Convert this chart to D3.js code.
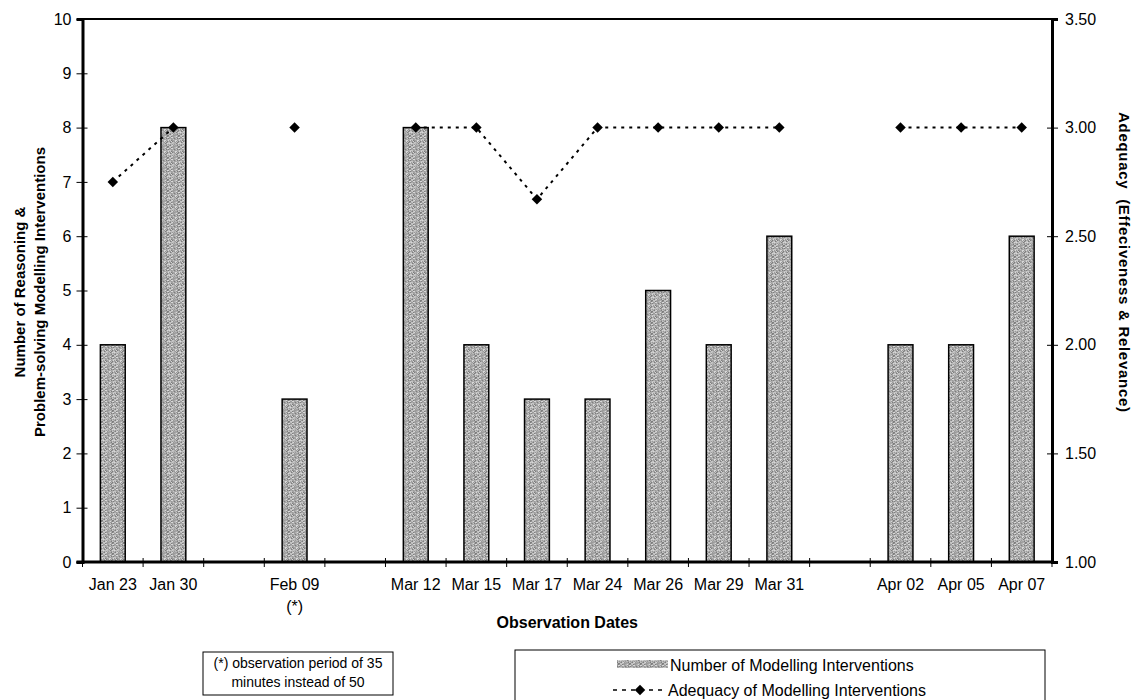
<!doctype html>
<meta charset="utf-8">
<title>Modelling Interventions</title>
<script src="https://cdnjs.cloudflare.com/ajax/libs/d3/7.8.5/d3.min.js"></script>
<style>
  body { margin: 0; background: #fff; }
  svg { font-family: Arial, "Liberation Sans", sans-serif; }
</style>
<svg id="chart" width="1136" height="700"></svg>
<script>
  // slots along the x axis, blank ones are the gaps in the original
  const dates = ['Jan 23', 'Jan 30', '', 'Feb 09', '', 'Mar 12', 'Mar 15', 'Mar 17',
    'Mar 24', 'Mar 26', 'Mar 29', 'Mar 31', '', 'Apr 02', 'Apr 05', 'Apr 07']
  const interventions = [4, 8, null, 3, null, 8, 4, 3, 3, 5, 4, 6, null, 4, 4, 6]
  const adequacy = [2.75, 3.0, null, 3.0, null, 3.0, 3.0, 2.67, 3.0, 3.0, 3.0, 3.0, null, 3.0, 3.0, 3.0]
  const leftTicks = [0, 1, 2, 3, 4, 5, 6, 7, 8, 9, 10]
  const rightTicks = [1.0, 1.5, 2.0, 2.5, 3.0, 3.5]

  const svg = d3.select('#chart')
  const m = { left: 82.5, right: 1052, top: 19, bottom: 562 }

  const x = d3.scaleBand().domain(d3.range(dates.length)).range([m.left, m.right])
  const yL = d3.scaleLinear().domain([0, 10]).range([m.bottom, m.top])
  const yR = d3.scaleLinear().domain([1, 3.5]).range([m.bottom, m.top])

  // speckled grey fill for the bars (scan-like texture, fixed hash so it is stable)
  const shades = ['#7e7e7e', '#9a9a9a', '#acacac', '#b8b8b8', '#c6c6c6', '#d8d8d8', '#a2a2a2']
  const N = 11
  const pat = svg.append('defs').append('pattern').attr('id', 'speck')
    .attr('width', N).attr('height', N).attr('patternUnits', 'userSpaceOnUse')
  for (let i = 0; i < N; i++) {
    for (let j = 0; j < N; j++) {
      const h = (i * 37 + j * 91 + i * j * 13 + (i ^ j) * 7) % 19
      pat.append('rect').attr('x', i).attr('y', j).attr('width', 1).attr('height', 1)
        .attr('fill', shades[h % shades.length])
    }
  }

  // bars
  const barW = x.bandwidth() * 0.41
  svg.append('g').selectAll('rect')
    .data(interventions.map((v, i) => ({ v, i })).filter(d => d.v != null))
    .join('rect')
    .attr('x', d => x(d.i) + (x.bandwidth() - barW) / 2)
    .attr('y', d => yL(d.v))
    .attr('width', barW)
    .attr('height', d => yL(0) - yL(d.v))
    .attr('fill', 'url(#speck)')
    .attr('stroke', '#000')
    .attr('stroke-width', 1.5)

  // top border
  svg.append('line').attr('x1', m.left).attr('x2', m.right).attr('y1', m.top).attr('y2', m.top)
    .attr('stroke', '#000').attr('stroke-width', 2)

  // left axis
  const gl = svg.append('g').attr('transform', `translate(${m.left},0)`)
    .call(d3.axisLeft(yL).tickValues(leftTicks).tickSize(6).tickFormat(d3.format('d')))
  gl.attr('font-size', null).attr('font-family', null)
  gl.select('.domain').attr('stroke-width', 3)
  gl.selectAll('.tick line').attr('x1', 5).attr('stroke-width', 1)
  gl.selectAll('.tick text').attr('font-size', 16).attr('x', -11)

  // right axis
  const gr = svg.append('g').attr('transform', `translate(${m.right},0)`)
    .call(d3.axisRight(yR).tickValues(rightTicks).tickSize(6).tickFormat(d3.format('.2f')))
  gr.attr('font-size', null).attr('font-family', null)
  gr.select('.domain').attr('stroke-width', 3)
  gr.selectAll('.tick line').attr('x1', -5).attr('stroke-width', 1)
  gr.selectAll('.tick text').attr('font-size', 16).attr('x', 13)

  // bottom axis, ticks on category boundaries
  const gb = svg.append('g').attr('transform', `translate(0,${m.bottom})`)
  gb.append('line').attr('x1', m.left - 6).attr('x2', m.right).attr('stroke', '#000').attr('stroke-width', 3)
  gb.selectAll('.bt').data(d3.range(dates.length + 1)).join('line')
    .attr('x1', i => m.left + i * x.step()).attr('x2', i => m.left + i * x.step())
    .attr('y1', -4).attr('y2', 5).attr('stroke', '#000').attr('stroke-width', 1)
  gb.selectAll('.lbl').data(dates).join('text')
    .attr('x', (d, i) => x(i) + x.bandwidth() / 2)
    .attr('y', 28)
    .attr('text-anchor', 'middle').attr('font-size', 16)
    .text(d => d)
  gb.append('text').attr('x', x(3) + x.bandwidth() / 2).attr('y', 50)
    .attr('text-anchor', 'middle').attr('font-size', 16).text('(*)')

  // adequacy line with gaps
  const line = d3.line()
    .defined(d => d.v != null)
    .x(d => x(d.i) + x.bandwidth() / 2)
    .y(d => yR(d.v))
  const adq = adequacy.map((v, i) => ({ v, i }))
  svg.append('path').datum(adq).attr('d', line)
    .attr('fill', 'none').attr('stroke', '#000').attr('stroke-width', 2)
    .attr('stroke-dasharray', '3,5')
  const diamond = d3.symbol().type(d3.symbolDiamond2).size(70)
  svg.append('g').selectAll('path').data(adq.filter(d => d.v != null)).join('path')
    .attr('d', diamond)
    .attr('transform', d => `translate(${x(d.i) + x.bandwidth() / 2},${yR(d.v)})`)
    .attr('fill', '#000')

  // axis titles
  svg.append('text').attr('x', (m.left + m.right) / 2).attr('y', 628)
    .attr('text-anchor', 'middle').attr('font-size', 16).attr('font-weight', 'bold')
    .text('Observation Dates')
  const lt = svg.append('text').attr('transform', 'translate(0,292) rotate(-90)')
    .attr('text-anchor', 'middle').attr('font-size', 15).attr('font-weight', 'bold')
  lt.append('tspan').attr('x', 0).attr('y', 25).text('Number of Reasoning &')
  lt.append('tspan').attr('x', 0).attr('y', 45).text('Problem-solving Modelling Interventions')
  svg.append('text').attr('transform', 'translate(1119,262) rotate(90)')
    .attr('text-anchor', 'middle').attr('font-size', 15).attr('font-weight', 'bold')
    .attr('textLength', 300).attr('lengthAdjust', 'spacing')
    .attr('xml:space', 'preserve')
    .text('Adequacy  (Effeciveness & Relevance)')

  // footnote box
  svg.append('rect').attr('x', 203).attr('y', 652).attr('width', 190).attr('height', 43)
    .attr('fill', '#fff').attr('stroke', '#000').attr('stroke-width', 1)
  const note = svg.append('text').attr('text-anchor', 'middle').attr('font-size', 14)
  note.append('tspan').attr('x', 298).attr('y', 668).text('(*) observation period of 35')
  note.append('tspan').attr('x', 298).attr('y', 687).text('minutes instead of 50')

  // legend
  svg.append('rect').attr('x', 515).attr('y', 650).attr('width', 530).attr('height', 60)
    .attr('fill', '#fff').attr('stroke', '#000').attr('stroke-width', 1)
  svg.append('rect').attr('x', 617).attr('y', 660).attr('width', 51).attr('height', 8)
    .attr('fill', 'url(#speck)')
  svg.append('text').attr('x', 670).attr('y', 671).attr('font-size', 16)
    .text('Number of Modelling Interventions')
  svg.append('line').attr('x1', 613).attr('x2', 665).attr('y1', 690).attr('y2', 690)
    .attr('stroke', '#000').attr('stroke-width', 1.5).attr('stroke-dasharray', '4,5')
  svg.append('path').attr('d', diamond).attr('transform', 'translate(640,690)').attr('fill', '#000')
  svg.append('text').attr('x', 668).attr('y', 696).attr('font-size', 16)
    .text('Adequacy of Modelling Interventions')
</script>
